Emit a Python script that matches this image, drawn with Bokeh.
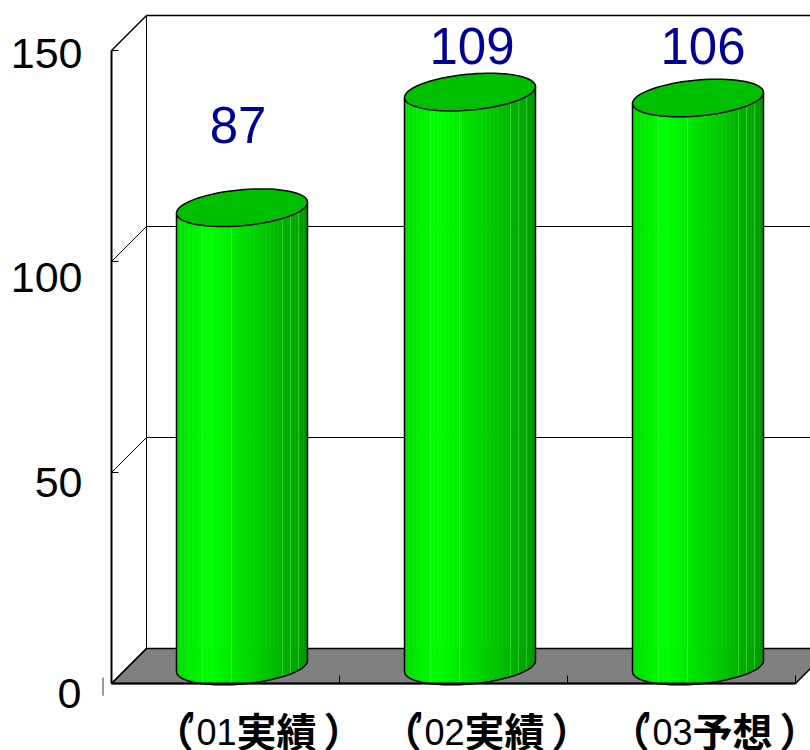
import math
from bokeh.plotting import figure
from bokeh.models import LinearAxis, FixedTicker, Range1d
from bokeh.core.properties import value
from bokeh.embed import file_html
from bokeh.resources import INLINE

# ---- data ----
years = ["01", "02", "03"]
kinds = ["実績", "実績", "予想"]
bar_heights = [108.6, 136.0, 134.6]      # height of the drawn cylinders on the axis
bar_labels = ["87", "109", "106"]        # printed value labels
y_ticks = [0, 50, 100, 150]
y_tick_labels = ["0", "50", "100", "150"]
grid_values = [50, 100]

# ---- layout / style ----
W, H = 810, 750
PX_X, PX_Y = 228.0, 4.22                 # pixels per category, pixels per value unit
DX, DY = 35 / PX_X, 35 / PX_Y            # 3-D depth expressed in data units
XL, XR = -0.5, 2.5                       # category span of the front plane
X_RANGE = (XL - 111 / PX_X, XL + (W - 111) / PX_X)
Y_RANGE = (-(H - 683) / PX_Y, 683 / PX_Y)

p = figure(width=W, height=H, output_backend="svg", toolbar_location=None,
           x_range=Range1d(*X_RANGE), y_range=Range1d(*Y_RANGE),
           x_axis_type=None, y_axis_type=None, min_border=0,
           background_fill_color="white", border_fill_color="white")
p.grid.visible = False
p.outline_line_color = None

# floor
p.patch([XL, XL + DX, XR + DX, XR], [0, DY, DY, 0], fill_color="#808080",
        line_color="black", line_width=1.5)
# back wall and side wall
p.segment([XL + DX], [DY], [XL + DX], [150 + DY], line_color="black", line_width=1)
p.segment([XL + DX], [150 + DY], [X_RANGE[1]], [150 + DY], line_color="black", line_width=1.5)
for v in grid_values:
    p.segment([XL + DX], [v + DY], [X_RANGE[1]], [v + DY], line_color="black", line_width=1)
for v in y_ticks:
    p.segment([XL], [v], [XL + DX], [v + DY], line_color="black", line_width=1.5 if v in (0, 150) else 1)

# real axes placed in the frame; their numbers are set apart below
yax = LinearAxis(fixed_location=XL, ticker=FixedTicker(ticks=y_ticks), bounds=(0, 150),
                 major_tick_in=7, major_tick_out=0, minor_tick_line_color=None,
                 major_label_overrides={v: "" for v in y_ticks}, axis_line_width=2,
                 axis_line_color="black", major_tick_line_color="black")
p.add_layout(yax, "left")
x_boundaries = [0.5, 1.5, 2.5]
xax = LinearAxis(fixed_location=0, ticker=FixedTicker(ticks=x_boundaries), bounds=(XL, XR),
                 major_tick_in=8, major_tick_out=0, minor_tick_line_color=None,
                 major_label_overrides={v: "" for v in x_boundaries}, axis_line_width=2,
                 axis_line_color="black", major_tick_line_color="black")
p.add_layout(xax, "below")

# y tick labels
p.text(x=[XL] * 4, y=y_ticks, text=y_tick_labels, x_offset=[-30, -29, -29, -29], y_offset=[10, 10, 16, 3],
       text_align="right", text_baseline="middle", text_font=value("Liberation Sans"),
       text_font_size="43px", text_color="black")
p.segment([XL - 8.5 / PX_X], [1.4], [XL - 8.5 / PX_X], [-2.9], line_color="#333333", line_width=1)

# cylinders
A, B, K = 65.5 / PX_X, 18.0 / PX_Y, 5.5 / PX_Y
GREEN_STOPS = [(0.0, 0xE0), (0.25, 0xFF), (0.65, 0xCC), (1.0, 0x99)]


def green(u):
    for (u0, g0), (u1, g1) in zip(GREEN_STOPS, GREEN_STOPS[1:]):
        if u <= u1:
            g = g0 + (g1 - g0) * (u - u0) / (u1 - u0)
            return "#00%02X00" % int(round(g))
    return "#009900"


def rim(cx, cy, t):
    return cx + A * math.cos(t), cy + B * math.sin(t) + K * math.cos(t)


N = 32
STREAKS = [0.2, 0.42, 0.81, 0.87, 0.93]
for i, h in enumerate(bar_heights):
    cx = i + DX / 2 - 1 / PX_X
    y0, y1 = DY / 2, h + DY / 2
    us = [j / N for j in range(N + 1)]
    ts = [math.pi + math.acos(1 - 2 * u) for u in us]
    xs, ys, cols = [], [], []
    for j in range(N):
        a0, a1 = rim(cx, y0, ts[j]), rim(cx, y0, ts[j + 1])
        b0, b1 = rim(cx, y1, ts[j]), rim(cx, y1, ts[j + 1])
        xs.append([a0[0], a1[0], b1[0], b0[0]])
        ys.append([a0[1], a1[1], b1[1], b0[1]])
        cols.append(green((j + 0.5) / N))
    p.patches(xs=xs, ys=ys, fill_color=cols, line_color=cols, line_width=0.6)
    sx, sy = [], []
    for u in STREAKS:
        t = math.pi + math.acos(1 - 2 * u)
        a, b = rim(cx, y0, t), rim(cx, y1, t)
        sx.append([a[0], b[0]])
        sy.append([a[1], b[1]])
    p.multi_line(sx, sy, line_color="#80FF80", line_alpha=0.4, line_width=1)
    arc = [math.pi + math.pi * j / 60 for j in range(61)]
    ox = [rim(cx, y1, math.pi)[0]] + [rim(cx, y0, t)[0] for t in arc] + [rim(cx, y1, 2 * math.pi)[0]]
    oy = [rim(cx, y1, math.pi)[1]] + [rim(cx, y0, t)[1] for t in arc] + [rim(cx, y1, 2 * math.pi)[1]]
    p.line(ox, oy, line_color="black", line_width=1.5)
    full = [2 * math.pi * j / 90 for j in range(90)]
    p.patch([rim(cx, y1, t)[0] for t in full], [rim(cx, y1, t)[1] for t in full],
            fill_color="#00BF00", line_color="black", line_width=1.5)

# value labels
p.text(x=[i + DX / 2 for i in range(3)], y=[h + DY / 2 for h in bar_heights], text=bar_labels,
       x_offset=[-5, 1, 4], y_offset=[-83, -46.5, -52],
       text_align="center", text_baseline="middle", text_font=value("Liberation Sans"),
       text_font_size="51px", text_color="#000099")

# category labels
cats = list(range(3))
LAB_Y = [(683 - 729) / PX_Y] * 3
p.text(x=cats, y=LAB_Y, text=["（"] * 3, x_offset=-72, y_offset=0, text_align="left", text_baseline="middle",
       text_font=value("Noto Sans CJK JP"), text_font_style="bold", text_font_size="40px", text_color="black")
p.text(x=cats, y=LAB_Y, text=["’"] * 3, x_offset=-40, y_offset=-4, text_align="left", text_baseline="middle",
       text_font=value("Liberation Sans"), text_font_style="bold", text_font_size="36px", text_color="black")
p.text(x=cats, y=LAB_Y, text=years, x_offset=-29, y_offset=2, text_align="left", text_baseline="middle",
       text_font=value("Liberation Sans"), text_font_size="36px", text_color="black")
p.text(x=cats, y=LAB_Y, text=kinds, x_offset=11, y_offset=0, text_align="left", text_baseline="middle",
       text_font=value("Noto Sans CJK JP"), text_font_style="bold", text_font_size="40px", text_color="black")
p.text(x=cats, y=LAB_Y, text=["）"] * 3, x_offset=98, y_offset=0, text_align="left", text_baseline="middle",
       text_font=value("Noto Sans CJK JP"), text_font_style="bold", text_font_size="40px", text_color="black")

open("out.html", "w").write(file_html(p, INLINE))
